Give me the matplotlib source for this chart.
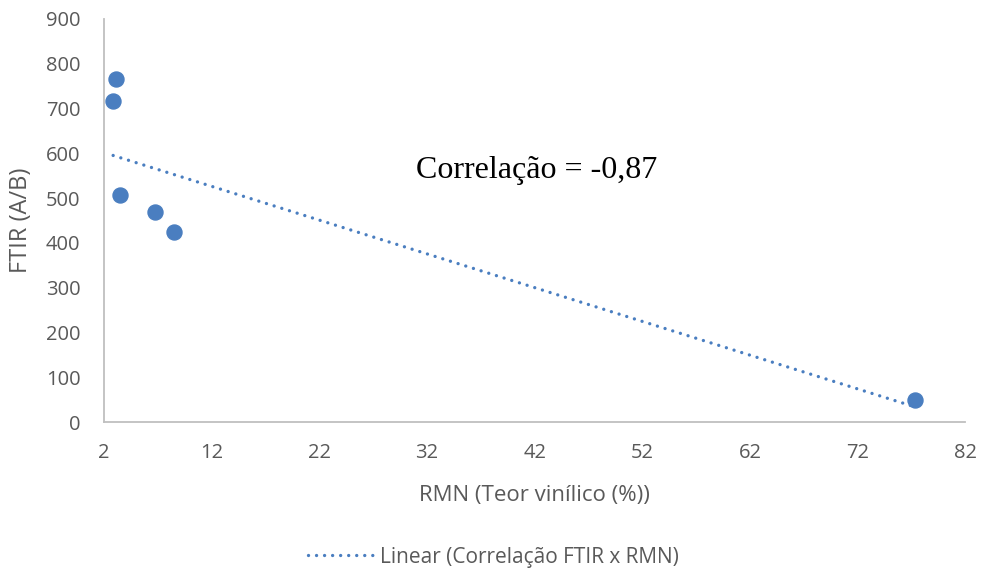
import numpy as np
import matplotlib.pyplot as plt

# Data
rmn = [3.1, 2.85, 3.5, 6.7, 8.5, 77.3]          # Teor vinílico (%)
ftir = [766, 717, 507, 469, 424, 49]            # FTIR (A/B)
x_ticks = [2, 12, 22, 32, 42, 52, 62, 72, 82]
y_ticks = [0, 100, 200, 300, 400, 500, 600, 700, 800, 900]

blue = "#4A7EC0"
gray_txt = "#595959"

fig = plt.figure(figsize=(9.81, 5.75), dpi=100)
ax = fig.add_axes([0.106, 0.266, 0.878, 0.701])

ax.plot(rmn, ftir, "o", color=blue, markersize=10.8, zorder=3)

# linear trend line
slope, intercept = np.polyfit(rmn, ftir, 1)
xl = np.array([min(rmn), max(rmn)])
dots = (0, (0.01, 2.4))
ax.plot(xl, slope * xl + intercept, linestyle=dots, color=blue,
        linewidth=2.4, dash_capstyle="round", label="Linear (Correlação FTIR x RMN)")

r = np.corrcoef(rmn, ftir)[0, 1]
ax.text(42.2, 562, f"Correlação = {r:.2f}".replace(".", ","),
        fontsize=23, family="Liberation Serif", ha="center", va="center", color="black")

ax.set_xlim(2, 82)
ax.set_ylim(0, 900)
ax.set_xticks(x_ticks)
ax.set_yticks(y_ticks)
ax.tick_params(length=0, labelsize=14.5, labelcolor=gray_txt)
ax.tick_params(axis="y", pad=17)
ax.tick_params(axis="x", pad=15)
for lab in ax.get_xticklabels() + ax.get_yticklabels():
    lab.set_family("Open Sans")
for s in ["top", "right"]:
    ax.spines[s].set_visible(False)
for s in ["left", "bottom"]:
    ax.spines[s].set_color("#BFBFBF")
    ax.spines[s].set_linewidth(1.3)

ax.set_xlabel("RMN (Teor vinílico (%))", fontsize=16, color=gray_txt,
              family="Open Sans", labelpad=16)
ax.set_ylabel("FTIR (A/B)", fontsize=17, color=gray_txt, family="Open Sans",
              labelpad=9)

leg = fig.legend(loc="center", bbox_to_anchor=(0.503, 0.031), frameon=False,
                 prop={"family": "Open Sans", "size": 15}, handlelength=3.2,
                 handletextpad=0.3)
for t in leg.get_texts():
    t.set_color(gray_txt)

fig.savefig("out.png", dpi=100)
